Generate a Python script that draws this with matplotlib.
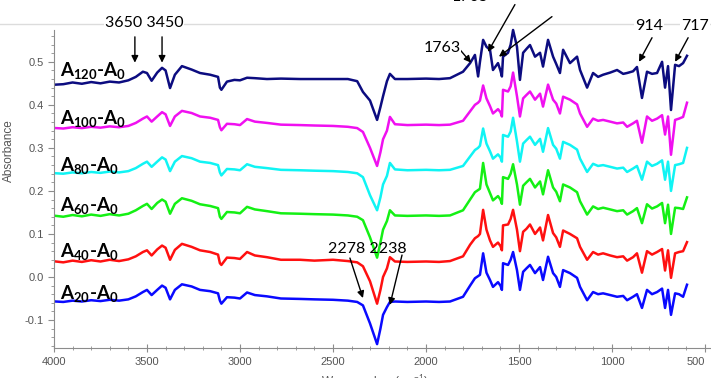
import matplotlib
matplotlib.use("Agg")
from matplotlib import pyplot as plt
from matplotlib.ticker import MultipleLocator
from matplotlib.lines import Line2D

# wavenumber grid (cm-1)
wn = [3990, 3950, 3900, 3850, 3800, 3750, 3700, 3650, 3600, 3560, 3522, 3500, 3475, 3445,
      3419, 3400, 3376, 3350, 3312, 3260, 3215, 3160, 3118, 3108, 3100, 3070, 3030, 3000,
      2962, 2920, 2855, 2780, 2677, 2600, 2500, 2420, 2370, 2339, 2301, 2263, 2245, 2231,
      2210, 2194, 2167, 2100, 2000, 1930, 1871, 1801, 1763, 1737, 1720, 1710, 1693, 1675,
      1656, 1640, 1613, 1600, 1592, 1586, 1559, 1545, 1532, 1511, 1495, 1478, 1460, 1441,
      1414, 1387, 1371, 1344, 1317, 1300, 1280, 1263, 1226, 1188, 1172, 1134, 1102, 1075,
      1048, 1010, 973, 940, 919, 887, 866, 839, 812, 785, 758, 731, 715, 699, 683, 661,
      640, 618, 597]

a20 = [-0.057, -0.058, -0.055, -0.057, -0.054, -0.056, -0.053, -0.055, -0.052, -0.045, -0.035,
       -0.030, -0.042, -0.030, -0.020, -0.025, -0.052, -0.030, -0.017, -0.022, -0.030, -0.033,
       -0.038, -0.055, -0.062, -0.047, -0.048, -0.050, -0.036, -0.042, -0.045, -0.050, -0.051,
       -0.052, -0.053, -0.055, -0.058, -0.066, -0.108, -0.156, -0.120, -0.088, -0.070, -0.058,
       -0.057, -0.058, -0.057, -0.058, -0.057, -0.046, -0.020, -0.003, 0.002, 0.005, 0.055,
       0.010, -0.007, -0.023, -0.012, -0.020, -0.030, 0.032, 0.028, 0.040, 0.058, 0.016,
       -0.030, 0.012, 0.020, 0.028, 0.009, 0.023, -0.007, 0.047, 0.009, 0.000, -0.023, 0.016,
       0.009, -0.002, -0.023, -0.054, -0.035, -0.040, -0.038, -0.042, -0.046, -0.044, -0.054,
       -0.046, -0.040, -0.072, -0.030, -0.040, -0.035, -0.027, -0.072, -0.030, -0.088, -0.038,
       -0.040, -0.046, -0.018]

a40 = [0.036, 0.034, 0.038, 0.035, 0.039, 0.036, 0.040, 0.037, 0.041, 0.048, 0.058, 0.062,
       0.050, 0.064, 0.073, 0.068, 0.040, 0.063, 0.077, 0.070, 0.062, 0.058, 0.052, 0.032,
       0.028, 0.045, 0.044, 0.042, 0.058, 0.050, 0.046, 0.040, 0.040, 0.038, 0.040, 0.037,
       0.034, 0.025, -0.010, -0.062, -0.030, 0.000, 0.020, 0.046, 0.036, 0.035, 0.036, 0.035,
       0.037, 0.048, 0.075, 0.090, 0.095, 0.100, 0.156, 0.110, 0.085, 0.070, 0.080, 0.072,
       0.062, 0.120, 0.122, 0.135, 0.156, 0.110, 0.060, 0.105, 0.112, 0.122, 0.100, 0.115,
       0.085, 0.144, 0.102, 0.092, 0.070, 0.108, 0.100, 0.090, 0.070, 0.040, 0.058, 0.052,
       0.055, 0.050, 0.046, 0.048, 0.038, 0.046, 0.055, 0.010, 0.060, 0.052, 0.058, 0.065,
       0.015, 0.062, -0.002, 0.055, 0.058, 0.060, 0.081]

a60 = [0.142, 0.140, 0.144, 0.141, 0.145, 0.142, 0.146, 0.143, 0.147, 0.155, 0.165, 0.170,
       0.158, 0.172, 0.180, 0.175, 0.147, 0.170, 0.183, 0.177, 0.169, 0.165, 0.160, 0.140,
       0.135, 0.151, 0.150, 0.148, 0.163, 0.157, 0.153, 0.148, 0.147, 0.146, 0.145, 0.143,
       0.140, 0.132, 0.092, 0.045, 0.080, 0.110, 0.130, 0.155, 0.143, 0.142, 0.143, 0.142,
       0.143, 0.155, 0.180, 0.197, 0.202, 0.205, 0.265, 0.215, 0.195, 0.178, 0.188, 0.180,
       0.170, 0.232, 0.228, 0.240, 0.262, 0.215, 0.168, 0.212, 0.220, 0.228, 0.208, 0.222,
       0.192, 0.248, 0.208, 0.198, 0.176, 0.215, 0.208, 0.197, 0.176, 0.145, 0.164, 0.158,
       0.161, 0.157, 0.153, 0.155, 0.145, 0.153, 0.160, 0.125, 0.169, 0.159, 0.164, 0.172,
       0.125, 0.168, 0.100, 0.161, 0.160, 0.158, 0.185]

a80 = [0.241, 0.240, 0.243, 0.241, 0.244, 0.242, 0.245, 0.243, 0.246, 0.253, 0.263, 0.268,
       0.256, 0.268, 0.278, 0.273, 0.246, 0.268, 0.281, 0.276, 0.268, 0.265, 0.260, 0.243,
       0.236, 0.251, 0.250, 0.248, 0.262, 0.256, 0.253, 0.249, 0.248, 0.247, 0.246, 0.244,
       0.241, 0.232, 0.190, 0.155, 0.185, 0.215, 0.235, 0.265, 0.250, 0.248, 0.249, 0.248,
       0.249, 0.258, 0.280, 0.295, 0.300, 0.305, 0.345, 0.310, 0.292, 0.275, 0.285, 0.278,
       0.268, 0.330, 0.326, 0.338, 0.370, 0.315, 0.268, 0.310, 0.318, 0.326, 0.307, 0.321,
       0.291, 0.346, 0.307, 0.298, 0.275, 0.314, 0.307, 0.296, 0.275, 0.244, 0.263, 0.258,
       0.260, 0.256, 0.252, 0.254, 0.244, 0.252, 0.258, 0.226, 0.268, 0.258, 0.263, 0.271,
       0.226, 0.268, 0.200, 0.260, 0.262, 0.265, 0.300]

a100 = [0.346, 0.345, 0.348, 0.346, 0.349, 0.347, 0.350, 0.348, 0.351, 0.358, 0.368, 0.373,
        0.361, 0.373, 0.383, 0.378, 0.351, 0.373, 0.386, 0.381, 0.373, 0.370, 0.365, 0.348,
        0.341, 0.356, 0.355, 0.353, 0.367, 0.361, 0.358, 0.354, 0.353, 0.352, 0.351, 0.349,
        0.346, 0.337, 0.300, 0.258, 0.290, 0.320, 0.340, 0.372, 0.355, 0.353, 0.354, 0.353,
        0.354, 0.363, 0.385, 0.400, 0.405, 0.410, 0.445, 0.415, 0.397, 0.380, 0.390, 0.383,
        0.373, 0.435, 0.431, 0.443, 0.475, 0.420, 0.373, 0.415, 0.423, 0.431, 0.412, 0.426,
        0.396, 0.447, 0.412, 0.403, 0.380, 0.419, 0.412, 0.401, 0.380, 0.349, 0.368, 0.363,
        0.365, 0.361, 0.357, 0.359, 0.349, 0.357, 0.363, 0.312, 0.373, 0.363, 0.368, 0.376,
        0.331, 0.373, 0.284, 0.365, 0.368, 0.372, 0.405]

a120 = [0.447, 0.448, 0.452, 0.449, 0.453, 0.450, 0.454, 0.452, 0.457, 0.465, 0.477, 0.474,
        0.456, 0.475, 0.486, 0.480, 0.439, 0.470, 0.490, 0.482, 0.474, 0.470, 0.465, 0.440,
        0.435, 0.454, 0.458, 0.457, 0.463, 0.462, 0.460, 0.461, 0.460, 0.460, 0.460, 0.460,
        0.455, 0.430, 0.410, 0.365, 0.395, 0.420, 0.455, 0.472, 0.460, 0.460, 0.461, 0.460,
        0.462, 0.477, 0.497, 0.516, 0.466, 0.500, 0.551, 0.535, 0.528, 0.481, 0.497, 0.480,
        0.466, 0.512, 0.521, 0.540, 0.574, 0.535, 0.458, 0.521, 0.530, 0.539, 0.512, 0.521,
        0.489, 0.551, 0.512, 0.495, 0.474, 0.528, 0.497, 0.512, 0.481, 0.440, 0.474, 0.465,
        0.470, 0.475, 0.481, 0.472, 0.474, 0.478, 0.488, 0.416, 0.477, 0.472, 0.474, 0.500,
        0.440, 0.490, 0.388, 0.493, 0.490, 0.497, 0.514]

series = [a20, a40, a60, a80, a100, a120]
names = ["20", "40", "60", "80", "100", "120"]
colors = ["#0a0aff", "#ff1010", "#14f014", "#10f4f4", "#f010f0", "#0c0c80"]
label_y = [-0.051, 0.047, 0.153, 0.247, 0.356, 0.467]
xticks = [4000, 3500, 3000, 2500, 2000, 1500, 1000, 500]

plt.rcParams['mathtext.fontset'] = 'custom'
plt.rcParams['mathtext.rm'] = 'Lato'
plt.rcParams['mathtext.bf'] = 'Lato:bold'

fig = plt.figure(figsize=(7.11, 3.78), dpi=100)
ax = fig.add_axes([0.0759, 0.0794, 0.9241, 0.8413])

for vals, col in zip(series, colors):
    ax.plot(wn, vals, color=col, lw=1.8, clip_on=False)

for n, ly in zip(names, label_y):
    ax.text(3968, ly, "$\\mathbf{A_{%s}}$-$\\mathbf{A_{0}}$" % n, fontsize=13.5,
            fontweight="bold", family="Lato", color="k", va="baseline", ha="left")

ax.set_xlim(4000, 468)
ax.set_ylim(-0.165, 0.574)
ax.set_xticks(xticks)
ax.set_xticklabels([str(t) for t in xticks])
ax.xaxis.set_minor_locator(MultipleLocator(100))
ax.yaxis.set_major_locator(MultipleLocator(0.1))
ax.yaxis.set_minor_locator(MultipleLocator(0.02))
ax.yaxis.set_major_formatter(matplotlib.ticker.FormatStrFormatter("%.1f"))
for s in ["top", "right"]:
    ax.spines[s].set_visible(False)
for s in ["left", "bottom"]:
    ax.spines[s].set_color("#8c8c8c")
ax.tick_params(which="both", color="#8c8c8c", labelsize=8, labelcolor="#555555")
ax.tick_params(axis="x", which="major", direction="inout", length=6)
ax.tick_params(axis="x", which="minor", direction="inout", length=3)
ax.tick_params(axis="y", which="major", direction="out", length=4)
ax.tick_params(axis="y", which="minor", direction="out", length=2)
for t in ax.get_xticklabels() + ax.get_yticklabels():
    t.set_family("Liberation Sans")
ax.get_xticklabels()[-1].set_ha("right")
ax.set_ylabel("Absorbance", fontsize=8.5, color="#555555", family="Liberation Sans",
              labelpad=4)
ax.yaxis.set_label_coords(-0.06, 0.62)
fig.text(0.527, -0.012, "Wavenumber (cm$^{-1}$)", fontsize=8.5, color="#555555",
         family="Liberation Sans", ha="center", va="center")

# thin grey rule across the top
fig.add_artist(Line2D([0, 1], [0.9365, 0.9365], color="#dcdcdc", lw=1, zorder=0))

ap = dict(arrowstyle="-|>", lw=1, color="k", mutation_scale=10, shrinkA=0, shrinkB=0)
arrows = [((3565, 0.558), (3565, 0.498)), ((3419, 0.558), (3419, 0.498)),
          ((1817, 0.528), (1758, 0.498)), ((1522, 0.633), (1667, 0.523)),
          ((1323, 0.605), (1608, 0.512)), ((785, 0.556), (855, 0.500)),
          ((591, 0.556), (661, 0.500)), ((2409, 0.044), (2339, -0.049)),
          ((2129, 0.051), (2194, -0.065))]
for tail, head in arrows:
    ax.annotate("", xy=head, xytext=tail, arrowprops=ap, annotation_clip=False)

notes = [("3650 3450", 3516, 0.591), ("1763", 1914, 0.533), ("1705", 1763, 0.651),
         ("914", 801, 0.584), ("717", 554, 0.584)]
for txt, x, y in notes:
    ax.text(x, y, txt, fontsize=11.5, family="Lato", ha="center", va="center",
            clip_on=False, bbox=dict(fc="white", ec="none", pad=0.5))
ax.text(2317, 0.065, "2278 2238", fontsize=11.5, family="Lato", ha="center", va="center")

fig.savefig("out.png", dpi=100)
